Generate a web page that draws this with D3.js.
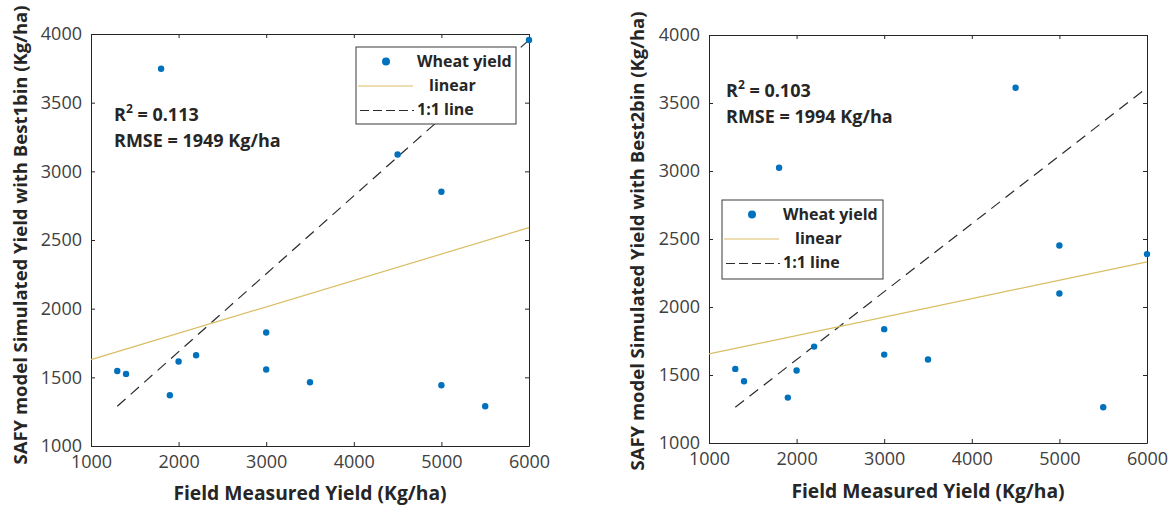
<!DOCTYPE html>
<html>
<head>
<meta charset="utf-8">
<script src="https://cdn.jsdelivr.net/npm/d3@7"></script>
<style>
  html, body { margin: 0; padding: 0; background: #fff; }
  svg { display: block; font-family: "Open Sans", "DejaVu Sans", sans-serif; }
</style>
</head>
<body>
<svg id="chart" width="1175" height="506"></svg>
<script>
// Field-measured wheat yield (Kg/ha) and SAFY simulated yield for two bin selections
const fieldYield  = [1300, 1400, 1800, 1900, 2000, 2200, 3000, 3000, 3500, 4500, 5000, 5000, 5500, 6000];
const simBest1bin = [1546, 1525, 3747, 1369, 1615, 1661, 1826, 1557, 1464, 3123, 2851, 1442, 1289, 3956];
const simBest2bin = [1545, 1454, 3024, 1334, 1533, 1709, 1837, 1650, 1614, 3612, 2452, 2099, 1263, 2389];

const xTickValues = [1000, 2000, 3000, 4000, 5000, 6000];
const yTickValues = [1000, 1500, 2000, 2500, 3000, 3500, 4000];
const legendLabels = ["Wheat yield", "linear", "1:1 line"];
const xTitle = "Field Measured Yield (Kg/ha)";
const yTitles = ["SAFY model Simulated Yield with Best1bin (Kg/ha)",
                 "SAFY model Simulated Yield with Best2bin (Kg/ha)"];
const r2Labels = ["0.113", "0.103"];
const rmseLabels = ["1949", "1994"];

const BLUE = "#0072BD", GOLD = "#D9BD62", INK = "#262626", TICK = "#404040", DASH = "#2b2b2b";

const svg = d3.select("#chart");

const panels = [
  { sim: simBest1bin, yTitle: yTitles[0], r2: r2Labels[0], rmse: rmseLabels[0],
    box: { l: 91, r: 529, t: 34, b: 446 },
    yTitleX: 26.5, yTitleY: 235, xTitleX: 310, xTitleY: 500,
    noteX: 114, noteY: 121, legend: { x: 356, y: 47, w: 160, h: 77 } },
  { sim: simBest2bin, yTitle: yTitles[1], r2: r2Labels[1], rmse: rmseLabels[1],
    box: { l: 709, r: 1147, t: 35, b: 443 },
    yTitleX: 644, yTitleY: 241, xTitleX: 928, xTitleY: 498,
    noteX: 726, noteY: 97, legend: { x: 722, y: 200, w: 161, h: 79 } }
];

function leastSquares(xs, ys) {
  const mx = d3.mean(xs), my = d3.mean(ys);
  let sxy = 0, sxx = 0;
  xs.forEach((xv, i) => { sxy += (xv - mx) * (ys[i] - my); sxx += (xv - mx) ** 2; });
  const slope = sxy / sxx;
  return { slope, intercept: my - slope * mx };
}

panels.forEach(p => {
  const { l, r, t, b } = p.box;
  const x = d3.scaleLinear().domain([1000, 6000]).range([l, r]);
  const y = d3.scaleLinear().domain([1000, 4000]).range([b, t]);
  const g = svg.append("g");
  const fmt = d3.format("d");

  // inward ticks on all four sides, labels on bottom and left
  const axB = g.append("g").attr("transform", `translate(0,${b})`)
    .call(d3.axisBottom(x).tickValues(xTickValues).tickFormat(fmt).tickSizeInner(-4).tickSizeOuter(0).tickPadding(9));
  const axL = g.append("g").attr("transform", `translate(${l},0)`)
    .call(d3.axisLeft(y).tickValues(yTickValues).tickFormat(fmt).tickSizeInner(-4).tickSizeOuter(0).tickPadding(9));
  const axT = g.append("g").attr("transform", `translate(0,${t})`)
    .call(d3.axisTop(x).tickValues(xTickValues).tickSizeInner(-4).tickSizeOuter(0).tickFormat(""));
  const axR = g.append("g").attr("transform", `translate(${r},0)`)
    .call(d3.axisRight(y).tickValues(yTickValues).tickSizeInner(-4).tickSizeOuter(0).tickFormat(""));
  [axB, axL, axT, axR].forEach(a => {
    a.select(".domain").attr("stroke", INK).attr("stroke-width", 1);
    a.selectAll(".tick line").attr("stroke", INK);
    a.selectAll(".tick text").attr("fill", TICK)
      .style("font-family", '"Open Sans", sans-serif').style("font-size", "18px");
  });

  // 1:1 reference from the lowest to the highest point
  const xe = d3.extent(fieldYield), ye = d3.extent(p.sim);
  g.append("line")
    .attr("x1", x(xe[0])).attr("y1", y(ye[0]))
    .attr("x2", x(xe[1])).attr("y2", y(ye[1]))
    .attr("stroke", DASH).attr("stroke-width", 1.2).attr("stroke-dasharray", "11,7");

  // least-squares fit across the full x range
  const fit = leastSquares(fieldYield, p.sim);
  g.append("line")
    .attr("x1", x(1000)).attr("y1", y(fit.intercept + fit.slope * 1000))
    .attr("x2", x(6000)).attr("y2", y(fit.intercept + fit.slope * 6000))
    .attr("stroke", GOLD).attr("stroke-width", 1.2);

  // observations
  g.append("g").selectAll("circle")
    .data(fieldYield.map((fv, i) => [fv, p.sim[i]]))
    .join("circle")
    .attr("cx", d => x(d[0])).attr("cy", d => y(d[1]))
    .attr("r", 3.2).attr("fill", BLUE);

  // statistics note
  const note = g.append("g").attr("font-weight", "bold").attr("fill", INK)
    .style("font-size", "18px");
  const r2 = note.append("text").attr("x", p.noteX).attr("y", p.noteY);
  r2.append("tspan").text("R");
  r2.append("tspan").text("2").attr("dy", -8).style("font-size", "12px");
  r2.append("tspan").text(` = ${p.r2}`).attr("dy", 8);
  note.append("text").attr("x", p.noteX).attr("y", p.noteY + 26)
    .text(`RMSE = ${p.rmse} Kg/ha`);

  // legend
  const L = p.legend;
  const lg = g.append("g").attr("transform", `translate(${L.x},${L.y})`);
  lg.append("rect").attr("width", L.w).attr("height", L.h)
    .attr("fill", "#fff").attr("stroke", "#3a3a3a").attr("stroke-width", 1);
  lg.append("circle").attr("cx", 30).attr("cy", 14.5).attr("r", 4).attr("fill", BLUE);
  lg.append("line").attr("x1", 2).attr("x2", 57).attr("y1", 39).attr("y2", 39)
    .attr("stroke", GOLD).attr("stroke-width", 1.2);
  lg.append("line").attr("x1", 4).attr("x2", 58).attr("y1", 63.5).attr("y2", 63.5)
    .attr("stroke", DASH).attr("stroke-width", 1.2).attr("stroke-dasharray", "9,4");
  const lt = lg.append("g").attr("font-weight", "bold").attr("fill", INK).style("font-size", "16px");
  lt.append("text").attr("x", 61).attr("y", 19.5).text(legendLabels[0]);
  lt.append("text").attr("x", 73).attr("y", 43.5).text(legendLabels[1]);
  lt.append("text").attr("x", 61).attr("y", 68).text(legendLabels[2]);

  // axis titles
  g.append("text").attr("x", p.xTitleX).attr("y", p.xTitleY)
    .attr("text-anchor", "middle").attr("font-weight", "bold").attr("fill", INK)
    .style("font-size", "19.3px").text(xTitle);
  g.append("text")
    .attr("transform", `translate(${p.yTitleX},${p.yTitleY}) rotate(-90)`)
    .attr("text-anchor", "middle").attr("font-weight", "bold").attr("fill", INK)
    .style("font-size", "18.5px").text(p.yTitle);
});
</script>
</body>
</html>
